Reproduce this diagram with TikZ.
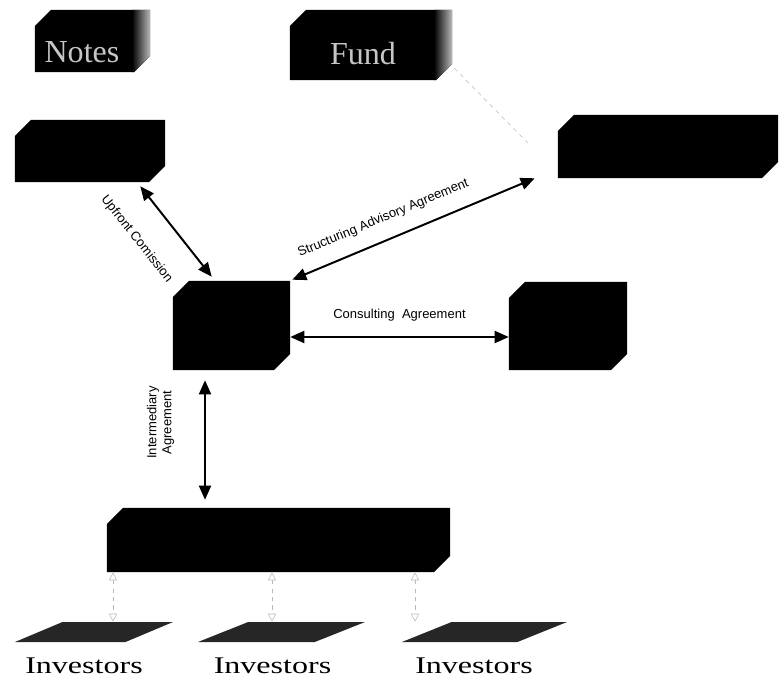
\documentclass[tikz,border=0pt]{standalone}
\usepackage{fontspec}
\setmainfont{Liberation Serif}
\setsansfont{Liberation Sans}
\usetikzlibrary{shapes.geometric,arrows.meta,calc,positioning}

% black box with two cut corners, drawn inside the node
\newcommand{\chamf}[1]{([yshift=-#1]path picture bounding box.north west)
  -- ([xshift=#1]path picture bounding box.north west) -- (path picture bounding box.north east)
  -- ([yshift=#1]path picture bounding box.south east) -- ([xshift=-#1]path picture bounding box.south east)
  -- (path picture bounding box.south west) -- cycle}

\tikzset{
  blk/.style={rectangle, draw=none, fill=white, inner sep=0pt,
    path picture={\fill[black] \chamf{4mm};}},
  side/.style={path picture={\fill[black] \chamf{4mm}; \clip \chamf{4mm};
    \shade[left color=black,right color=gray!55]
    ([xshift=-4.5mm]path picture bounding box.north east) rectangle (path picture bounding box.south east);}},
  bar/.style={trapezium, trapezium left angle=53, trapezium right angle=127,
    trapezium stretches=true, minimum height=5mm, fill=black!85, inner sep=1pt},
  title/.style={anchor=base, text=gray!45, font=\fontsize{22.8}{24}\selectfont},
  inv/.style={anchor=base, font=\fontsize{17}{19}\selectfont},
  lbl/.style={font=\sffamily\fontsize{9.25}{10.7}\selectfont},
  dbl/.style={{Triangle[length=3.5mm,width=3mm]}-{Triangle[length=3.5mm,width=3mm]}, line width=1.4pt},
  faint/.style={gray!55, dashed, thin},
  fainttip/.style={{Triangle[open,length=2mm,width=2mm]}-{Triangle[open,length=2mm,width=2mm]}},
}

\begin{document}
\begin{tikzpicture}[x=0.025cm,y=-0.025cm]
\useasboundingbox (0,0) rectangle (780,688);

% top row
\node[blk,side,minimum width=28.75mm,minimum height=15.5mm] (notes) at (92.5,41) {};
\node[blk,side,minimum width=40.5mm,minimum height=17.5mm] (fund) at (371,45) {};
\node[title] (notestxt) at (82,63) {Notes};
\node[title] (fundtxt) at (363,65) {Fund};

% parties
\node[blk,minimum width=37.5mm,minimum height=15.5mm] (arr) at (90,151) {};
\node[blk,minimum width=55mm,minimum height=15.75mm] (adv) at (668,146.5) {};
\node[blk,minimum width=29.25mm,minimum height=22.25mm] (mid) at (231.5,325.5) {};
\node[blk,minimum width=29.5mm,minimum height=22mm] (cons) at (568,326) {};
\node[blk,minimum width=85.75mm,minimum height=16mm] (dist) at (278.5,540) {};

% investors
\node[bar,minimum width=39.5mm] (bar1) at (94,632) {};
\node[bar,minimum width=41.75mm] (bar2) at (281.5,632) {};
\node[bar,minimum width=41.25mm] (bar3) at (484.5,632) {};
\node[inv] (inv1) at (84,673) {\scalebox{1.34}[1]{Investors}};
\node[inv] (inv2) at (272.5,673) {\scalebox{1.34}[1]{Investors}};
\node[inv] (inv3) at (474,673) {\scalebox{1.34}[1]{Investors}};

% agreements
\draw[dbl] ($(arr.south east)+(-25,4)$) to
  node[lbl,sloped,pos=0.34,below=17pt] {Upfront Comission} ($(mid.north west)+(39,-4)$);
\draw[dbl] ($(mid.north east)+(2,-1)$) to
  node[lbl,sloped,pos=0.41,above=7pt] {Structuring Advisory Agreement} ($(adv.south west)+(-23,0)$);
\coordinate (cy) at (0,337);
\draw[dbl] (mid.east |- cy) to node[lbl,above=7pt] {Consulting\ \ Agreement} (cons.west |- cy);
\coordinate (ix) at (205,0);
\draw[dbl,shorten <=2mm,shorten >=2.5mm] (dist.north -| ix) to
  node[lbl,sloped,pos=0.62,above=18pt,align=center] {Intermediary\\Agreement} (mid.south -| ix);

% faint links
\coordinate (fe) at ($(adv.north west)+(-30,28)$);
\draw[faint] ($(fund.south east)+(2,-12)$) -- (fe);
\coordinate (d1) at (113,0);
\coordinate (d2) at (272,0);
\coordinate (d3) at (415,0);
\draw[faint,fainttip] (dist.south -| d1) -- (bar1.north -| d1);
\draw[faint,fainttip] (dist.south -| d2) -- (bar2.north -| d2);
\draw[faint,fainttip] (dist.south -| d3) -- (bar3.north -| d3);
\end{tikzpicture}
\end{document}
